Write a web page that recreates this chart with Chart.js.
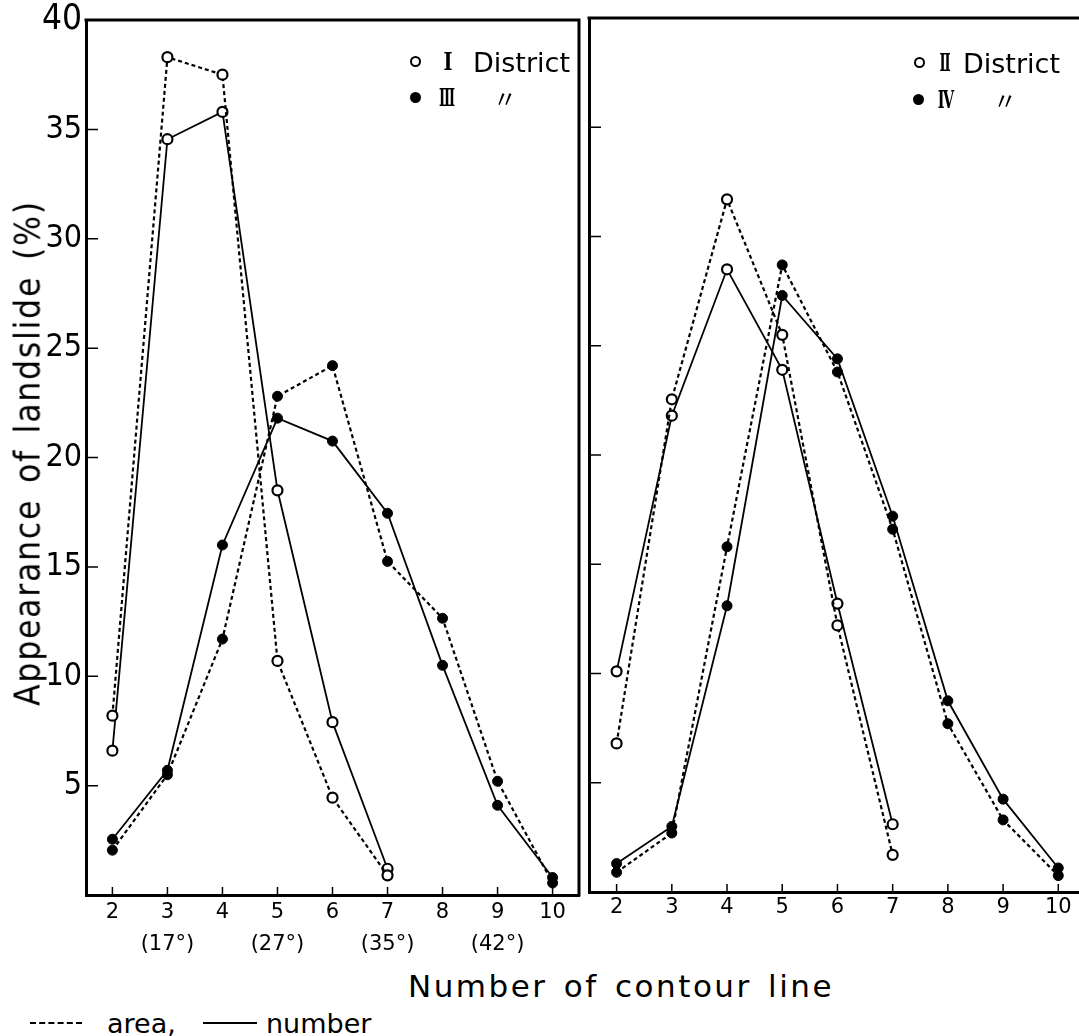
<!DOCTYPE html>
<html>
<head>
<meta charset="utf-8">
<script src="https://cdn.jsdelivr.net/npm/chart.js@4.4.1/dist/chart.umd.min.js"></script>
<style>
  body { margin: 0; background: #fff; }
  #wrap { position: relative; width: 1079px; height: 1036px; overflow: hidden; color: #000; font-family: 'DejaVu Sans', sans-serif; }
  canvas { position: absolute; top: 0; }
  .t { position: absolute; white-space: nowrap; line-height: 1; }
  .c { transform: translate(-50%, -50%); }
  .l { transform: translateY(-50%); }
  .mk { position: absolute; width: 7px; height: 7px; border: 2px solid #000; border-radius: 50%; background: #fff; }
  .mk.fill { background: #000; }
  .roman { font-family: 'DejaVu Serif', serif; font-weight: bold; font-size: 24px; }
  .leg { font-size: 27px; }
  .ditto { font-family: 'Noto Sans CJK JP', sans-serif; font-size: 24px; }
</style>
</head>
<body>
<div id="wrap">
  <canvas id="left" width="590" height="960" style="left:0"></canvas>
  <canvas id="right" width="579" height="960" style="left:500px"></canvas>

  <!-- legend, left panel -->
  <span class="mk" style="left:410px;top:56px"></span>
  <span class="t roman" style="left:448px;top:62px;transform:translate(-50%,-50%) scaleX(0.8)">Ⅰ</span>
  <span class="t l leg" style="left:473px;top:62px">District</span>
  <span class="mk fill" style="left:410px;top:92px"></span>
  <span class="t roman" style="left:447px;top:98px;transform:translate(-50%,-50%) scaleX(0.55)">Ⅲ</span>
  <span class="t c ditto" style="left:505px;top:98px">〃</span>

  <!-- legend, right panel -->
  <span class="mk" style="left:914px;top:57px"></span>
  <span class="t roman" style="left:945px;top:63px;transform:translate(-50%,-50%) scaleX(0.55)">Ⅱ</span>
  <span class="t l leg" style="left:963px;top:63px">District</span>
  <span class="mk fill" style="left:913px;top:94px"></span>
  <span class="t roman" style="left:946px;top:100px;transform:translate(-50%,-50%) scaleX(0.6)">Ⅳ</span>
  <span class="t c ditto" style="left:1005px;top:100px">〃</span>

  <!-- axis titles -->
  <div class="t" style="left:28px;top:453px;transform:translate(-50%,-50%) rotate(-90deg);font-family:'DejaVu Sans Condensed','DejaVu Sans',sans-serif;font-size:35px;letter-spacing:1.8px;word-spacing:4px">Appearance of landslide (%)</div>
  <div class="t c" style="left:621px;top:986px;font-size:31px;letter-spacing:2.5px;word-spacing:4px">Number of contour line</div>

  <!-- line style key -->
  <span style="position:absolute;left:30px;top:1022px;width:52px;border-top:2px dashed #000"></span>
  <span class="t l" style="left:107px;top:1023px;font-size:27px">area,</span>
  <span style="position:absolute;left:203px;top:1022px;width:54px;border-top:2px solid #000"></span>
  <span class="t l" style="left:266px;top:1023px;font-size:27px">number</span>
</div>

<script>
const contourNumbers = [2, 3, 4, 5, 6, 7, 8, 9, 10];
const slopeAngles = ['', '(17°)', '', '(27°)', '', '(35°)', '', '(42°)', ''];
const yTickValues = [5, 10, 15, 20, 25, 30, 35, 40];

// I District (contour 2..7)
const district1Area = [8.2, 38.3, 37.5, 10.7, 4.45, 0.9];
const district1Number = [6.6, 34.55, 35.8, 18.5, 7.9, 1.2];
// III District (contour 2..10)
const district3Area = [2.05, 5.5, 11.7, 22.8, 24.2, 15.25, 12.65, 5.2, 0.55];
const district3Number = [2.55, 5.7, 16.0, 21.8, 20.75, 17.45, 10.5, 4.1, 0.8];
// II District (contour 2..7)
const district2Area = [6.8, 22.55, 31.7, 25.5, 12.2, 1.7];
const district2Number = [10.1, 21.8, 28.5, 23.9, 13.2, 3.1];
// IV District (contour 2..10)
const district4Area = [0.9, 2.7, 15.8, 28.7, 23.8, 16.6, 7.7, 3.3, 0.75];
const district4Number = [1.3, 3.0, 13.1, 27.3, 24.4, 17.2, 8.75, 4.25, 1.1];

function toPoints(values) {
    return values.map((v, i) => ({ x: contourNumbers[i], y: v }));
}

function makeDataset(values, dashed, open) {
    return {
        data: toPoints(values),
        borderColor: '#000',
        borderWidth: dashed ? 2.2 : 1.8,
        borderDash: dashed ? [4, 3] : [],
        pointRadius: 5,
        pointHoverRadius: 5,
        pointBorderWidth: open ? 2.2 : 1,
        pointBorderColor: '#000',
        pointBackgroundColor: open ? '#fff' : '#000',
        tension: 0
    };
}

// top (and right) frame lines plus inward tick marks
const framePlugin = {
    id: 'frame',
    afterDraw(chart, args, opts) {
        const { ctx, chartArea: a, scales } = chart;
        ctx.save();
        ctx.strokeStyle = '#000';
        ctx.lineWidth = 3;
        ctx.beginPath();
        ctx.moveTo(a.left - 1.5, a.top);
        ctx.lineTo(a.right, a.top);
        if (opts.right) ctx.lineTo(a.right, a.bottom + 1.5);
        ctx.stroke();

        ctx.lineWidth = 1.5;
        ctx.beginPath();
        contourNumbers.forEach(v => {
            const px = scales.x.getPixelForValue(v);
            ctx.moveTo(px, a.bottom);
            ctx.lineTo(px, a.bottom - 8);
        });
        yTickValues.slice(0, -1).forEach(v => {
            const py = scales.y.getPixelForValue(v);
            ctx.moveTo(a.left, py);
            ctx.lineTo(a.left + 12, py);
        });
        ctx.stroke();
        ctx.restore();
    }
};

function makeChart(id, datasets, opt) {
    return new Chart(document.getElementById(id), {
        type: 'line',
        data: { datasets: datasets },
        plugins: [framePlugin],
        options: {
            responsive: false,
            animation: false,
            devicePixelRatio: 1,
            layout: { autoPadding: false, padding: { top: opt.top, right: opt.right, left: 0, bottom: 0 } },
            plugins: {
                legend: { display: false },
                tooltip: { enabled: false },
                frame: { right: opt.frameRight }
            },
            scales: {
                x: {
                    type: 'linear',
                    min: opt.xMin,
                    max: opt.xMax,
                    afterBuildTicks: s => { s.ticks = contourNumbers.map(v => ({ value: v })); },
                    afterFit: s => {
                        s.height = opt.xHeight;
                        s.paddingLeft = 0;
                        s.paddingRight = 0;
                    },
                    grid: { display: false, drawTicks: false },
                    border: { display: true, color: '#000', width: 3 },
                    ticks: {
                        autoSkip: false,
                        maxRotation: 0,
                        padding: opt.xPad,
                        color: '#000',
                        font: { family: 'DejaVu Sans', size: 21, lineHeight: 1.5 },
                        callback: value => {
                            const i = contourNumbers.indexOf(value);
                            return opt.angles && slopeAngles[i] ? [String(value), slopeAngles[i]] : String(value);
                        }
                    }
                },
                y: {
                    type: 'linear',
                    min: 0,
                    max: 40,
                    afterBuildTicks: s => { s.ticks = yTickValues.map(v => ({ value: v })); },
                    afterFit: s => {
                        s.width = opt.yWidth;
                        s.paddingTop = 0;
                        s.paddingBottom = 0;
                    },
                    grid: { display: false, drawTicks: false },
                    border: { display: true, color: '#000', width: 3 },
                    ticks: {
                        display: opt.yLabels,
                        padding: 4,
                        color: '#000',
                        font: ctx => ({
                            family: "'DejaVu Sans Condensed', 'DejaVu Sans', sans-serif",
                            size: ctx.tick && ctx.tick.value === 40 ? 35 : 32,
                            weight: 'normal',
                            lineHeight: 1
                        })
                    }
                }
            }
        }
    });
}

makeChart('left', [
    makeDataset(district1Area, true, true),
    makeDataset(district1Number, false, true),
    makeDataset(district3Area, true, false),
    makeDataset(district3Number, false, false)
], { top: 20, right: 11, xMin: 1.52, xMax: 10.48, xHeight: 65, xPad: 2, yWidth: 86, yLabels: true, angles: true, frameRight: true });

makeChart('right', [
    makeDataset(district2Area, true, true),
    makeDataset(district2Number, false, true),
    makeDataset(district4Area, true, false),
    makeDataset(district4Number, false, false)
], { top: 18, right: 0, xMin: 1.5, xMax: 10.375, xHeight: 68, xPad: 0, yWidth: 89, yLabels: false, angles: false, frameRight: false });
</script>
</body>
</html>
